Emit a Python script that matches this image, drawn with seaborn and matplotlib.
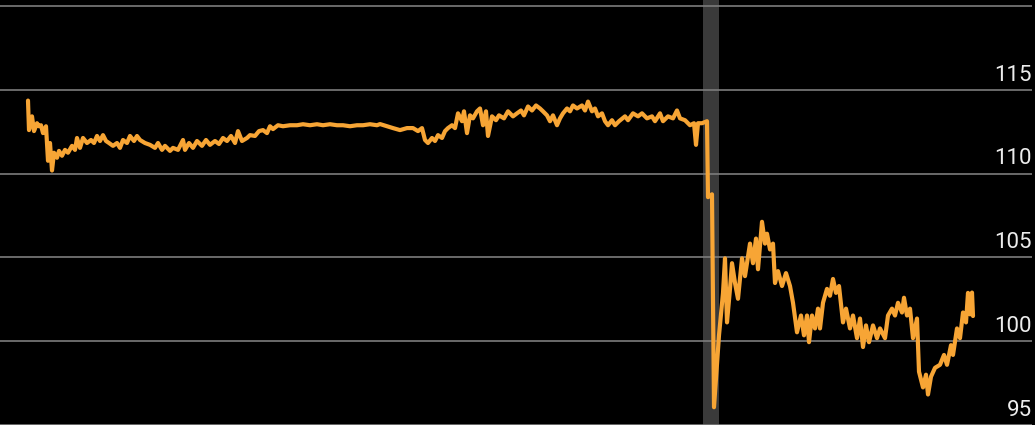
import matplotlib
matplotlib.use("Agg")
import matplotlib.pyplot as plt
import numpy as np
import pandas as pd
import seaborn as sns

# trading-day position and index level
t = [28, 29, 32, 34, 37, 39, 41, 43, 46, 48, 50, 52, 54, 57, 59, 62, 65, 68, 72, 75,
     77, 80, 83, 87, 91, 94, 97, 100, 103, 106, 109, 113, 117, 120, 123, 127, 130, 134, 137, 140,
     145, 150, 155, 158, 162, 165, 170, 173, 178, 183, 185, 189, 193, 197, 202, 206, 210, 215, 219, 223,
     227, 231, 235, 238, 242, 247, 250, 255, 259, 263, 267, 270, 273, 278, 283, 290, 297, 303, 310, 317,
     323, 330, 337, 343, 350, 357, 363, 370, 377, 380, 387, 393, 400, 407, 413, 418, 422, 425, 428, 432,
     435, 438, 442, 445, 448, 452, 455, 458, 462, 464, 467, 470, 473, 477, 480, 483, 486, 488, 492, 496,
     499, 504, 508, 513, 517, 521, 524, 528, 532, 536, 540, 543, 547, 550, 553, 557, 560, 563, 567, 570,
     573, 577, 582, 585, 588, 592, 595, 598, 602, 605, 608, 612, 615, 619, 625, 628, 633, 638, 642, 647,
     652, 655, 660, 663, 668, 673, 677, 680, 685, 690, 694, 696, 698, 702, 707, 708, 712, 714, 719, 723,
     725, 727, 730, 732, 735, 738, 742, 745, 750, 753, 756, 758, 762, 765, 767, 770, 773, 775, 778, 782,
     786, 790, 793, 797, 801, 804, 807, 809, 812, 815, 818, 820, 823, 827, 830, 833, 836, 839, 843, 846,
     850, 853, 857, 860, 863, 866, 869, 873, 877, 880, 885, 888, 892, 895, 898, 902, 904, 907, 910, 913,
     917, 919, 923, 926, 928, 931, 935, 940, 944, 947, 951, 953, 957, 960, 963, 966, 968, 970, 972, 973]

level = [114.35, 112.59, 113.41, 112.53, 113.0, 112.82, 112.88, 112.41, 112.82, 110.76,
         111.82, 110.18, 111.24, 110.94, 111.35, 111.06, 111.41, 111.24, 111.65, 111.41,
         112.12, 111.53, 112.12, 111.82, 112.0, 111.82, 112.24, 111.94, 112.29, 111.94,
         111.82, 111.65, 111.82, 111.53, 112.0, 111.82, 112.24, 111.94, 112.24, 112.0,
         111.82, 111.71, 111.53, 111.82, 111.41, 111.65, 111.35, 111.53, 111.41, 112.0,
         111.41, 111.82, 111.53, 111.94, 111.65, 112.0, 111.71, 111.94, 111.76, 112.12,
         111.94, 112.24, 111.82, 112.53, 111.94, 112.12, 112.29, 112.24, 112.53, 112.59,
         112.41, 112.82, 112.65, 112.88, 112.82, 112.88, 112.88, 112.94, 112.88, 112.94,
         112.88, 112.94, 112.88, 112.88, 112.82, 112.88, 112.88, 112.94, 112.88, 112.95,
         112.82, 112.71, 112.59, 112.71, 112.71, 112.53, 112.71, 112.0, 111.82, 112.12,
         111.94, 112.29, 112.12, 112.53, 112.71, 112.88, 112.71, 113.59, 113.12, 113.71,
         112.41, 113.47, 113.29, 113.71, 113.88, 112.88, 113.71, 112.24, 113.41, 113.18,
         113.47, 113.29, 113.71, 113.41, 113.59, 113.76, 113.47, 114.0, 113.76, 114.06,
         113.88, 113.71, 113.47, 113.12, 113.47, 112.88, 113.29, 113.59, 113.88, 113.71,
         114.06, 113.88, 114.06, 113.76, 114.29, 113.71, 113.88, 113.41, 113.59, 113.12,
         112.88, 113.18, 112.88, 113.12, 113.41, 113.18, 113.59, 113.41, 113.59, 113.29,
         113.41, 113.12, 113.59, 113.12, 113.41, 113.29, 113.76, 113.29, 113.18, 112.88,
         113.0, 111.71, 113.0, 113.0, 113.12, 108.59, 108.76, 96.06, 100.35, 102.88,
         104.94, 101.12, 103.12, 104.65, 103.47, 102.53, 104.94, 103.88, 105.82, 104.65,
         106.12, 104.29, 107.12, 105.82, 106.41, 105.47, 105.82, 103.47, 104.18, 103.29,
         104.06, 103.29, 102.29, 100.53, 101.53, 100.35, 101.53, 99.94, 101.53, 100.76,
         101.94, 100.76, 102.29, 103.12, 102.71, 103.71, 102.88, 103.29, 101.12, 101.94,
         100.76, 101.53, 100.18, 101.35, 99.65, 100.94, 99.94, 100.94, 100.18, 100.76,
         100.18, 101.53, 101.94, 101.53, 102.29, 101.71, 102.59, 101.53, 101.94, 100.18,
         101.35, 98.18, 97.24, 98.0, 96.82, 97.88, 98.41, 98.59, 99.18, 98.59,
         99.76, 99.18, 100.76, 100.18, 101.71, 101.12, 102.88, 101.6, 102.9, 101.5]

shade = (703, 719)
grid_levels = [95, 100, 105, 110, 115, 120]
label_levels = [95, 100, 105, 110, 115]

df = pd.DataFrame({"t": t, "level": level})

sns.set_style("dark")
fig = plt.figure(figsize=(10.35, 4.25), dpi=100, facecolor="black")
ax = fig.add_axes([0, 0, 1032 / 1035, 1])
ax.set_facecolor("black")

ax.axvspan(*shade, color="#3a3a3a", lw=0, zorder=0)
sns.lineplot(data=df, x="t", y="level", ax=ax, color="#f7a535", linewidth=3.0,
             sort=False, estimator=None, zorder=3)

ax.set_xlim(0, 1032)
ax.set_ylim(95.35, 120.35)
ax.set_yticks(grid_levels)
ax.set_xticks([])
ax.tick_params(axis="y", length=0, labelleft=False, labelright=False)
ax.grid(axis="y", color="#7c7c7c", linewidth=1.2)
ax.grid(axis="x", visible=False)
for s in ax.spines.values():
    s.set_visible(False)
ax.set_xlabel("")
ax.set_ylabel("")

for v in label_levels:
    ax.annotate(str(v), xy=(1, v), xycoords=ax.get_yaxis_transform(),
                xytext=(0, 6.5), textcoords="offset points", ha="right", va="baseline",
                color="#ececec", fontsize=16,
                family=["Roboto", "DejaVu Sans"])

fig.savefig("out.png", dpi=100, facecolor="black")
